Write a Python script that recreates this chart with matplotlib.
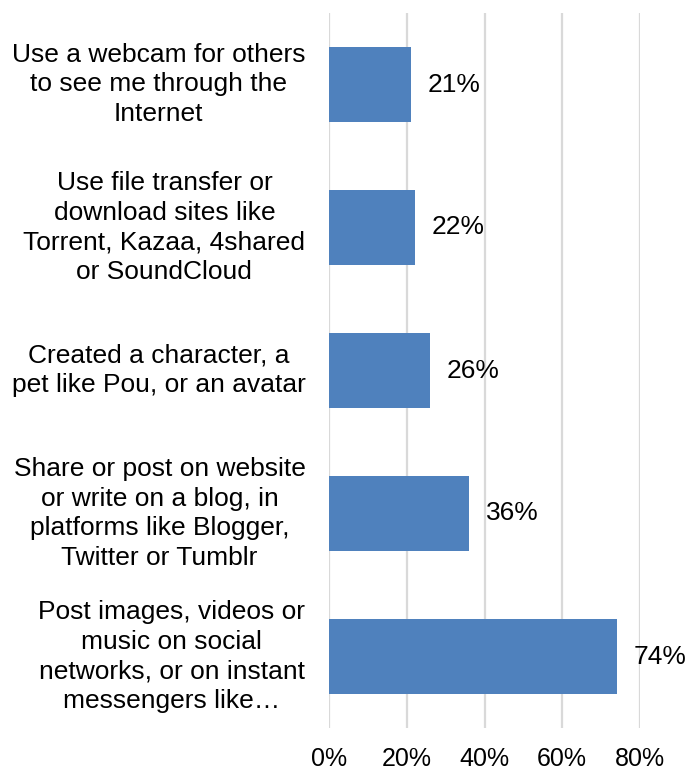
import numpy as np
import matplotlib.pyplot as plt

plt.rcParams['font.family'] = ['Liberation Sans', 'DejaVu Sans']

categories = [
    "Use a webcam for others\nto see me through the\nInternet",
    "Use file transfer or\ndownload sites like\nTorrent, Kazaa, 4shared\nor SoundCloud",
    "Created a character, a\npet like Pou, or an avatar",
    "Share or post on website\nor write on a blog, in\nplatforms like Blogger,\nTwitter or Tumblr",
    "Post images, videos or\nmusic on social\nnetworks, or on instant\nmessengers like\u2026",
]
values = [0.21, 0.22, 0.26, 0.36, 0.74]
ticks = [0, 0.2, 0.4, 0.6, 0.8]
tick_labels = ["0%", "20%", "40%", "60%", "80%"]

fig = plt.figure(figsize=(6.88, 7.71), dpi=100)
ax = fig.add_axes([329 / 688, 1 - 728 / 771, (640 - 329) / 688, (728 - 13) / 771])

y = np.arange(len(values))
ax.barh(y, values, height=0.52, color="#4f81bd", zorder=3)
ax.set_ylim(len(values) - 0.5, -0.5)
ax.set_xlim(0, 0.8)

ax.set_xticks(ticks)
ax.set_xticklabels(tick_labels, fontsize=18)
ax.tick_params(axis="x", length=0, pad=14)
ax.set_yticks([])
ax.grid(axis="x", color="#d9d9d9", linewidth=1.6, zorder=0)
for s in ax.spines.values():
    s.set_visible(False)

for yi, v in zip(y, values):
    ax.annotate(f"{v * 100:.0f}%", xy=(v, yi), xytext=(12, 0),
                textcoords="offset points", ha="left", va="center",
                fontsize=19)

for yi, lab in zip(y, categories):
    ax.annotate(lab, xy=(0, yi), xytext=(-17, 0), textcoords="offset points",
                ha="right", va="center", multialignment="center",
                fontsize=19, linespacing=1.3)

fig.savefig("out.png", dpi=100)
